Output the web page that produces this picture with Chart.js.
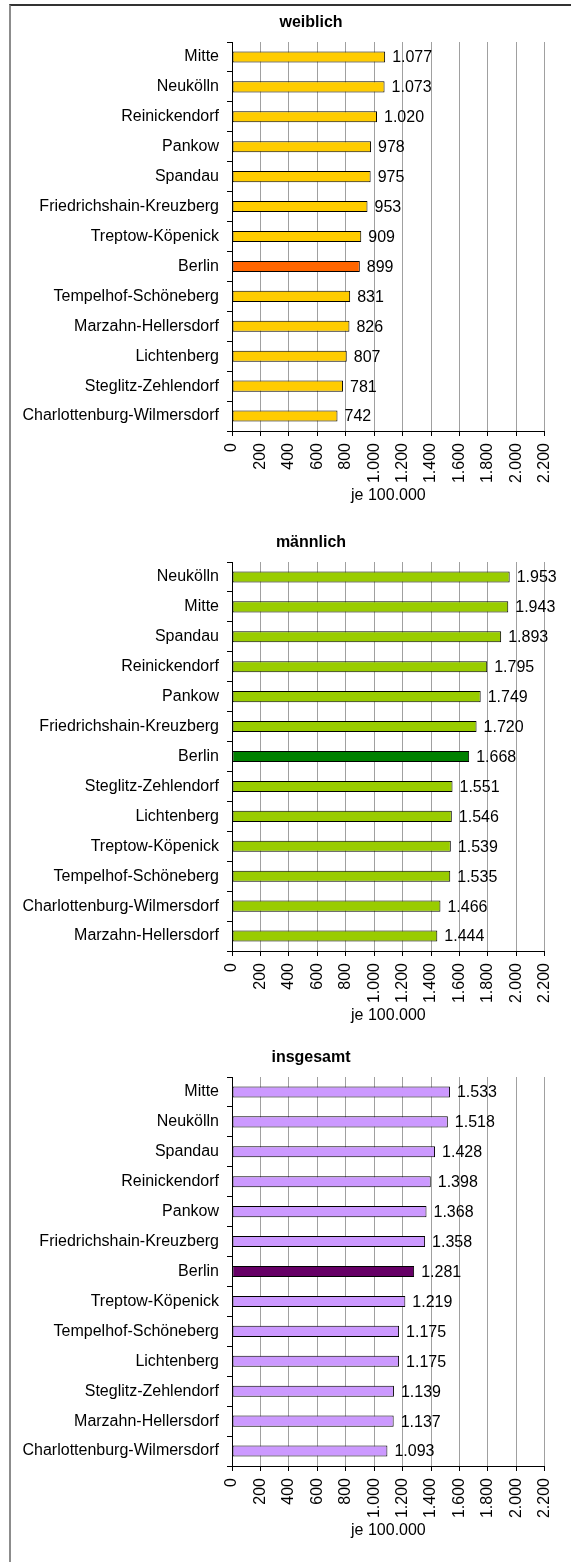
<!DOCTYPE html>
<html>
<head>
<meta charset="utf-8">
<script src="https://cdn.jsdelivr.net/npm/chart.js@4/dist/chart.umd.min.js"></script>
<style>
  body { margin: 0; background: #fff; }
  #page { position: relative; width: 571px; height: 1562px; overflow: hidden; }
  #frame { position: absolute; left: 9px; top: 4px; width: 600px; height: 1600px;
           border-top: 2px solid #333; border-left: 2px solid #8c8c8c; }
  canvas { position: absolute; left: 0; }
</style>
</head>
<body>
<div id="page">
  <div id="frame"></div>
  <canvas id="c1" width="571" height="511" style="top:0px"></canvas>
  <canvas id="c2" width="571" height="511" style="top:520px"></canvas>
  <canvas id="c3" width="571" height="511" style="top:1035px"></canvas>
</div>
<script>
// Bezirke, je 100.000 Einwohner
const weiblichLabels = ['Mitte', 'Neukölln', 'Reinickendorf', 'Pankow', 'Spandau', 'Friedrichshain-Kreuzberg',
  'Treptow-Köpenick', 'Berlin', 'Tempelhof-Schöneberg', 'Marzahn-Hellersdorf', 'Lichtenberg',
  'Steglitz-Zehlendorf', 'Charlottenburg-Wilmersdorf'];
const weiblichValues = [1077, 1073, 1020, 978, 975, 953, 909, 899, 831, 826, 807, 781, 742];

const maennlichLabels = ['Neukölln', 'Mitte', 'Spandau', 'Reinickendorf', 'Pankow', 'Friedrichshain-Kreuzberg',
  'Berlin', 'Steglitz-Zehlendorf', 'Lichtenberg', 'Treptow-Köpenick', 'Tempelhof-Schöneberg',
  'Charlottenburg-Wilmersdorf', 'Marzahn-Hellersdorf'];
const maennlichValues = [1953, 1943, 1893, 1795, 1749, 1720, 1668, 1551, 1546, 1539, 1535, 1466, 1444];

const gesamtLabels = ['Mitte', 'Neukölln', 'Spandau', 'Reinickendorf', 'Pankow', 'Friedrichshain-Kreuzberg',
  'Berlin', 'Treptow-Köpenick', 'Tempelhof-Schöneberg', 'Lichtenberg', 'Steglitz-Zehlendorf',
  'Marzahn-Hellersdorf', 'Charlottenburg-Wilmersdorf'];
const gesamtValues = [1533, 1518, 1428, 1398, 1368, 1358, 1281, 1219, 1175, 1175, 1139, 1137, 1093];

const axisMin = 0;
const axisMax = 2200;
const axisStep = 200;
const axisTitle = 'je 100.000';

const FONT = "'Liberation Sans', Arial, sans-serif";
Chart.defaults.color = '#000';
Chart.defaults.font.family = FONT;
Chart.defaults.font.size = 16;

function fmt(v) {
  return String(v).replace(/\B(?=(\d{3})+(?!\d))/g, '.');
}

// Wert rechts neben jeden Balken schreiben
const valueLabels = {
  id: 'valueLabels',
  afterDatasetsDraw(chart) {
    const ctx = chart.ctx;
    const meta = chart.getDatasetMeta(0);
    const data = chart.data.datasets[0].data;
    ctx.save();
    ctx.font = '16px ' + FONT;
    ctx.fillStyle = '#000';
    ctx.textAlign = 'left';
    ctx.textBaseline = 'middle';
    meta.data.forEach(function(bar, i) {
      ctx.fillText(fmt(data[i]), bar.x + 7, bar.y + 1);
    });
    ctx.restore();
  }
};

// Überschrift etwas rechts der Mitte, wie im Excel-Diagramm
const panelTitle = {
  id: 'panelTitle',
  afterDraw(chart, args, opts) {
    const ctx = chart.ctx;
    ctx.save();
    ctx.font = 'bold 16px ' + FONT;
    ctx.fillStyle = '#000';
    ctx.textAlign = 'center';
    ctx.textBaseline = 'middle';
    ctx.fillText(opts.text, 311, 23);
    ctx.restore();
  }
};

function makeChart(id, title, labels, values, color, berlinColor) {
  const colors = labels.map(function(l) { return l === 'Berlin' ? berlinColor : color; });
  return new Chart(document.getElementById(id), {
    type: 'bar',
    data: {
      labels: labels,
      datasets: [{
        data: values,
        backgroundColor: colors,
        borderColor: '#000',
        borderWidth: 1,
        borderSkipped: false,
        categoryPercentage: 1,
        barPercentage: 0.37
      }]
    },
    plugins: [valueLabels, panelTitle],
    options: {
      indexAxis: 'y',
      responsive: false,
      animation: false,
      layout: { padding: { left: 0, right: 23, top: 42, bottom: 0 } },
      plugins: {
        legend: { display: false },
        tooltip: { enabled: false },
        title: { display: false },
        panelTitle: { text: title }
      },
      scales: {
        x: {
          type: 'linear',
          min: axisMin,
          max: axisMax,
          afterFit: function(scale) { scale.height = 80; },
          ticks: {
            stepSize: axisStep,
            minRotation: 90,
            maxRotation: 90,
            padding: 7,
            callback: function(v) { return fmt(v); }
          },
          grid: { color: '#a0a0a0', tickColor: '#000', tickLength: 5 },
          border: { color: '#000' },
          title: { display: true, text: axisTitle, padding: { top: 0, bottom: 6 } }
        },
        y: {
          afterFit: function(scale) { scale.width = 232; },
          ticks: { autoSkip: false, padding: 8 },
          grid: { offset: true, drawOnChartArea: false, color: '#000', tickLength: 5 },
          border: { color: '#000' }
        }
      }
    }
  });
}

makeChart('c1', 'weiblich', weiblichLabels, weiblichValues, '#FFCC00', '#FF6600');
makeChart('c2', 'männlich', maennlichLabels, maennlichValues, '#99CC00', '#008000');
makeChart('c3', 'insgesamt', gesamtLabels, gesamtValues, '#CC99FF', '#660066');
</script>
</body>
</html>
